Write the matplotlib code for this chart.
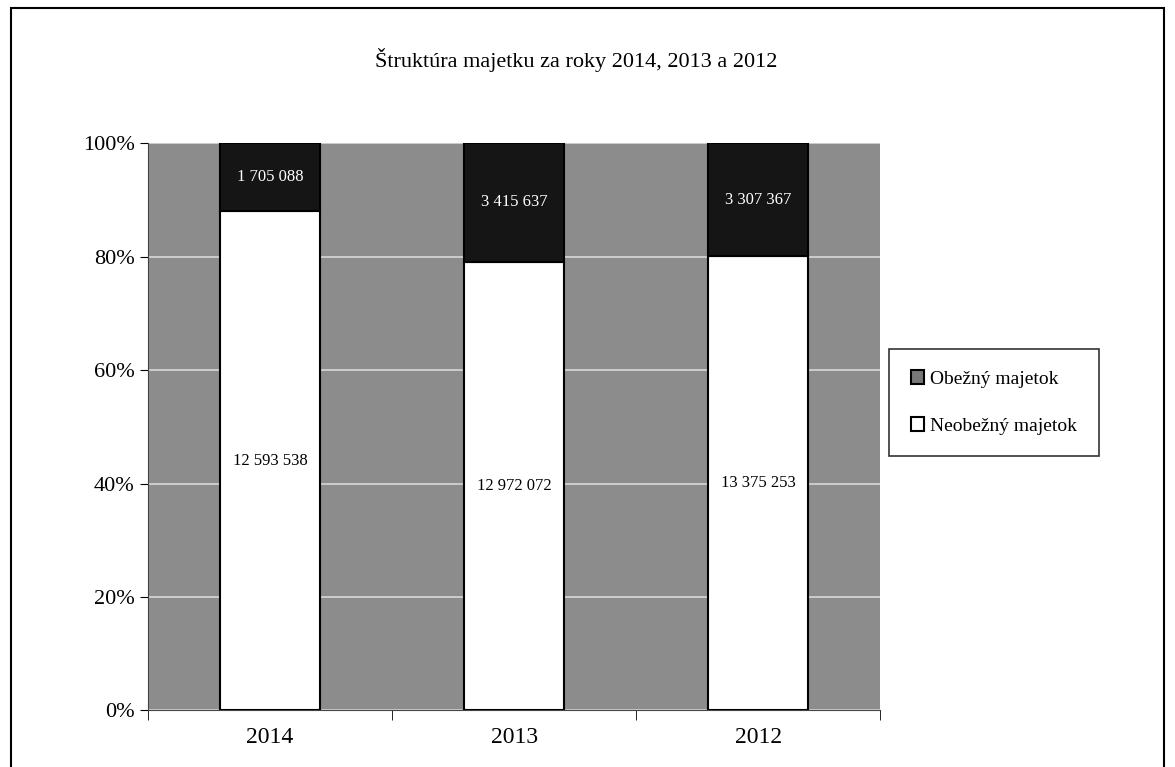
import matplotlib.pyplot as plt
import numpy as np
from matplotlib.patches import Rectangle

plt.rcParams['font.family'] = ['Liberation Serif', 'DejaVu Serif']

years = ['2014', '2013', '2012']
neobezny = [12593538, 12972072, 13375253]
obezny = [1705088, 3415637, 3307367]
series_names = ['Obežný majetok', 'Neobežný majetok']
title = 'Štruktúra majetku za roky 2014, 2013 a 2012'


def fmt(v):
  return f'{v:,}'.replace(',', ' ')


neo = np.array(neobezny, dtype=float)
obe = np.array(obezny, dtype=float)
tot = neo + obe
neo_p = neo / tot * 100
obe_p = obe / tot * 100

fig = plt.figure(figsize=(11.75, 7.67), dpi=100)
fig.patches.append(Rectangle((0.009, -0.01), 0.982, 1.0, transform=fig.transFigure,
                             fill=False, edgecolor='black', linewidth=1.5))

ax = fig.add_axes([0.126, 0.074, 0.623, 0.739])
ax.set_facecolor('#8c8c8c')

x = np.arange(len(years))
w = 0.41
b1 = ax.bar(x, neo_p, w, color='white', edgecolor='black', linewidth=1.5, zorder=3)
b2 = ax.bar(x, obe_p, w, bottom=neo_p, color='#151515', edgecolor='black', linewidth=1.5, zorder=3)

for i in range(len(years)):
  ax.text(x[i], neo_p[i] / 2, fmt(neobezny[i]), ha='center', va='center', fontsize=12, zorder=4)
  ax.text(x[i], neo_p[i] + obe_p[i] / 2, fmt(obezny[i]), ha='center', va='center',
          fontsize=12, color='white', zorder=4)

ax.set_xlim(-0.5, len(years) - 0.5)
ax.set_ylim(0, 100)
ax.set_yticks(np.arange(0, 101, 20))
ax.set_yticklabels([f'{v}%' for v in range(0, 101, 20)], fontsize=16)
ax.set_xticks(x)
ax.set_xticklabels(years, fontsize=17)
ax.tick_params(axis='x', length=0, pad=12)
ax.set_xticks(np.arange(-0.5, len(years), 1), minor=True)
ax.tick_params(axis='x', which='minor', length=7, direction='out')
ax.tick_params(axis='y', length=6, direction='out')
ax.yaxis.grid(True, color='#d8d8d8', linewidth=1.2, zorder=1)
ax.set_axisbelow(True)
for s in ['top', 'right']:
  ax.spines[s].set_visible(False)
ax.spines['left'].set_color('#444444')
ax.spines['bottom'].set_color('#444444')

fig.text(0.49, 0.922, title, ha='center', va='center', fontsize=16)

leg = fig.legend([b2, b1], series_names, loc='center left', bbox_to_anchor=(0.757, 0.475),
                 fontsize=14, frameon=True, fancybox=False, edgecolor='black',
                 handlelength=0.7, handleheight=0.7, handletextpad=0.3,
                 labelspacing=1.5, borderpad=1.1, borderaxespad=0)
leg.get_frame().set_linewidth(1.2)
leg.legend_handles[0].set_facecolor('#777777')

fig.savefig('out.png', dpi=100)
